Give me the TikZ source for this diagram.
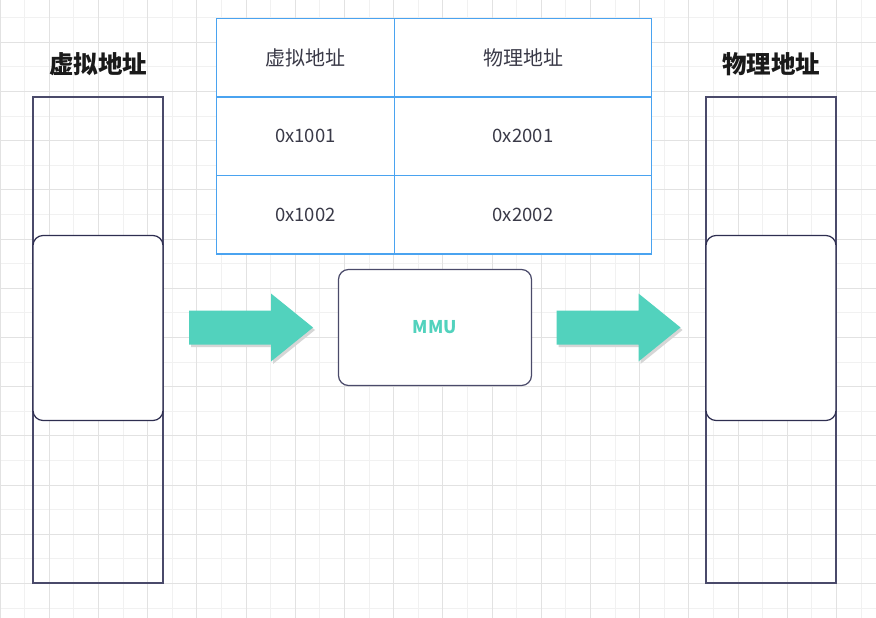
\documentclass[tikz,border=0pt]{standalone}
\usepackage{fontspec}
\setmainfont{Noto Sans CJK SC}
\usepackage{tikz}
\usetikzlibrary{positioning}
\definecolor{gridminor}{HTML}{F1F1F1}
\definecolor{gridmajor}{HTML}{E2E2E2}
\definecolor{memline}{HTML}{4A4A6A}
\definecolor{pageline}{HTML}{2E2E50}
\definecolor{tableblue}{HTML}{4AA3F0}
\definecolor{celltext}{HTML}{3A3A48}
\definecolor{titletext}{HTML}{1A1A1A}
\definecolor{mmuteal}{HTML}{52D2BD}
\definecolor{arrowshadow}{HTML}{D6D6D6}
\tikzstyle{memory} = [draw=memline, line width=1.2pt, inner sep=0, minimum width=130pt, minimum height=486pt]
\tikzstyle{page} = [draw=pageline, fill=white, line width=1.2pt, rounded corners=10pt, inner sep=0,
                    minimum width=130pt, minimum height=185pt]
\tikzstyle{title} = [font=\fontsize{24.5}{28}\selectfont\bfseries, text=titletext]
\tikzstyle{cell} = [draw=tableblue, fill=white, line width=1.1pt, inner sep=0, minimum height=78.5pt, text=celltext]
\tikzstyle{headtext} = [font=\fontsize{20}{23}\selectfont]
\tikzstyle{numtext} = [font=\fontsize{18.5}{21}\selectfont]

\begin{document}
\begin{tikzpicture}[x=1pt, y=-1pt]
				\useasboundingbox (0,0) rectangle (876,618);
				\fill[white] (0,0) rectangle (876,618);

				% grid
				\foreach \i in {0,...,35}
					\draw[gridminor, line width=1pt] (24.6*\i,0) -- (24.6*\i,618);
				\foreach \i in {0,...,24}
					\draw[gridminor, line width=1pt] (0,17.6+24.6*\i) -- (876,17.6+24.6*\i);
				\foreach \i in {0,2,...,34}
					\draw[gridmajor, line width=1pt] (24.6*\i,0) -- (24.6*\i,618);
				\foreach \i in {1,3,...,23}
					\draw[gridmajor, line width=1pt] (0,17.6+24.6*\i) -- (876,17.6+24.6*\i);

				% virtual side
				\node (VTitle) [title] at (98, 64) {虚拟地址};
				\node (VMem) [memory] at (98, 340) {};
				\node (VPage) [page] at (98, 328) {};

				% physical side
				\node (PTitle) [title] at (771, 64) {物理地址};
				\node (PMem) [memory] at (771, 340) {};
				\node (PPage) [page] at (771, 328) {};

				% page table
				\node (HeadV) [cell, headtext, minimum width=178pt] at (305.5, 57.75) {虚拟地址};
				\node (HeadP) [cell, headtext, minimum width=257pt] at (523, 57.75) {物理地址};
				\node (V1) [cell, numtext, minimum width=178pt] at (305.5, 136.25) {0x1001};
				\node (P1) [cell, numtext, minimum width=257pt] at (523, 136.25) {0x2001};
				\node (V2) [cell, numtext, minimum width=178pt] at (305.5, 214.75) {0x1002};
				\node (P2) [cell, numtext, minimum width=257pt] at (523, 214.75) {0x2002};

				\node (MMU) [draw=memline, fill=white, line width=1.2pt, rounded corners=10pt, inner sep=0,
				             minimum width=193pt, minimum height=116pt, text=mmuteal,
				             font=\fontsize{17.5}{20}\selectfont\bfseries] at (435, 327.5) {MMU};

				% virtual to mmu
				\coordinate (InL) at (189, 327.5);
				\coordinate (TipL) at (313, 327.5);
				\fill[arrowshadow] ([shift={(2,2.5)}]InL) ++(0,-17) -- ++(82,0) -- ++(0,-17)
				      -- ([shift={(2,2.5)}]TipL) -- ++(-42,34) -- ++(0,-17) -- ++(-82,0) -- cycle;
				\fill[mmuteal] (InL) ++(0,-17) -- ++(82,0) -- ++(0,-17)
				      -- (TipL) -- ++(-42,34) -- ++(0,-17) -- ++(-82,0) -- cycle;

				% mmu to physical
				\coordinate (InR) at (556.5, 327.5);
				\coordinate (TipR) at (680.5, 327.5);
				\fill[arrowshadow] ([shift={(2,2.5)}]InR) ++(0,-17) -- ++(82,0) -- ++(0,-17)
				      -- ([shift={(2,2.5)}]TipR) -- ++(-42,34) -- ++(0,-17) -- ++(-82,0) -- cycle;
				\fill[mmuteal] (InR) ++(0,-17) -- ++(82,0) -- ++(0,-17)
				      -- (TipR) -- ++(-42,34) -- ++(0,-17) -- ++(-82,0) -- cycle;
			\end{tikzpicture}
\end{document}
